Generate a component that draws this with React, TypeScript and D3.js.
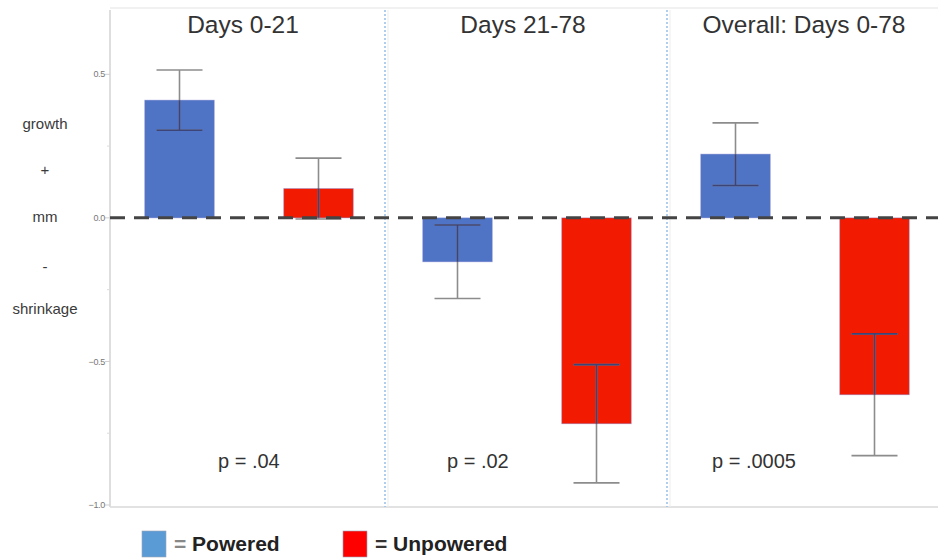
import React, { useEffect, useRef } from "react";
import * as d3 from "d3";

const periods = ["Days 0-21", "Days 21-78", "Overall: Days 0-78"];
const groups = ["Powered", "Unpowered"];
const poweredMean = [0.41, -0.153, 0.222];
const poweredErr = [0.105, 0.128, 0.109];
const unpoweredMean = [0.102, -0.717, -0.616];
const unpoweredErr = [0.106, 0.206, 0.212];
const pValues = ["p = .04", "p = .02", "p = .0005"];
const sideLabels = ["growth", "+", "mm", "-", "shrinkage"];
const yTicks = [0.5, 0.0, -0.5, -1.0];
const yMinorTicks = [0.25, -0.25, -0.75];

const WIDTH = 938;
const HEIGHT = 560;

const App = () => {
  const svgRef = useRef<SVGSVGElement | null>(null);

  useEffect(() => {
    const svg = d3.select(svgRef.current);
    svg.selectAll("*").remove();

    const left = 110;
    const top = 10;
    const bottom = 507;
    const right = WIDTH;

    const y = d3.scaleLinear().domain([-1.007, 0.724]).range([bottom, top]);

    const xPanel = d3.scaleBand<string>().domain(periods).range([left, left + 278 * 3]).padding(0);
    const xGroup = d3.scaleBand<string>()
      .domain(groups)
      .range([0, xPanel.bandwidth()])
      .paddingInner(0.5)
      .paddingOuter(0.25);

    const rows = periods.flatMap((p, i) => [
      { period: p, group: "Powered", mean: poweredMean[i], err: poweredErr[i], color: "#5074c5", i },
      { period: p, group: "Unpowered", mean: unpoweredMean[i], err: unpoweredErr[i], color: "#f21a00", i },
    ]);

    svg.append("rect").attr("width", WIDTH).attr("height", HEIGHT).attr("fill", "#fff");

    const font = "'Liberation Sans', Arial, sans-serif";

    // frame lines
    svg.append("line")
      .attr("x1", left).attr("x2", right).attr("y1", 8).attr("y2", 8)
      .attr("stroke", "#ececec").attr("stroke-width", 1.5);
    svg.append("line")
      .attr("x1", left).attr("x2", right).attr("y1", bottom).attr("y2", bottom)
      .attr("stroke", "#d8d8d8").attr("stroke-width", 1.5);
    svg.append("line")
      .attr("x1", left).attr("x2", left).attr("y1", top).attr("y2", bottom)
      .attr("stroke", "#dedede").attr("stroke-width", 2);

    // y ticks
    const ax = svg.append("g");
    ax.selectAll("line.major")
      .data(yTicks)
      .join("line")
      .attr("class", "major")
      .attr("x1", left - 5).attr("x2", left)
      .attr("y1", (d) => y(d)).attr("y2", (d) => y(d))
      .attr("stroke", "#cfcfcf").attr("stroke-width", 1);
    ax.selectAll("line.minor")
      .data(yMinorTicks)
      .join("line")
      .attr("class", "minor")
      .attr("x1", left - 3).attr("x2", left)
      .attr("y1", (d) => y(d)).attr("y2", (d) => y(d))
      .attr("stroke", "#dcdcdc").attr("stroke-width", 1);
    ax.selectAll("text")
      .data(yTicks)
      .join("text")
      .attr("x", left - 5)
      .attr("y", (d) => y(d))
      .attr("dy", "0.35em")
      .attr("text-anchor", "end")
      .attr("font-family", font)
      .attr("font-size", 9)
      .attr("letter-spacing", -0.3)
      .attr("fill", "#777")
      .text((d) => d3.format(".1f")(d));

    // side labels
    const sideY = [129, 175, 222, 272, 314];
    svg.append("g")
      .selectAll("text")
      .data(sideLabels)
      .join("text")
      .attr("x", 45)
      .attr("y", (_, i) => sideY[i])
      .attr("text-anchor", "middle")
      .attr("font-family", font)
      .attr("font-size", 15)
      .attr("fill", "#3a3a3a")
      .text((d) => d);

    // panel dividers
    const dividers = periods.slice(1).map((p) => xPanel(p) as number);
    dividers.forEach((dx, k) => {
      const xd = k === 0 ? dx - 3 : dx + 1;
      svg.append("line")
        .attr("x1", xd).attr("x2", xd).attr("y1", top).attr("y2", bottom)
        .attr("stroke", "#9dc3e8").attr("stroke-width", 1.6)
        .attr("stroke-dasharray", "2,2");
      svg.append("line")
        .attr("x1", xd + 3).attr("x2", xd + 3).attr("y1", top).attr("y2", bottom)
        .attr("stroke", "#ededed").attr("stroke-width", 1);
    });

    // titles
    svg.append("g")
      .selectAll("text")
      .data(periods)
      .join("text")
      .attr("x", (d, i) => (xPanel(d) as number) + xPanel.bandwidth() / 2 - [6, 4, 1][i])
      .attr("y", 33)
      .attr("text-anchor", "middle")
      .attr("font-family", font)
      .attr("font-size", 24.5)
      .attr("fill", "#333")
      .text((d) => d);

    // bars
    const barX = (d: any) => (xPanel(d.period) as number) + (xGroup(d.group) as number);
    const defs = svg.append("defs");
    rows.forEach((d, k) => {
      defs.append("clipPath")
        .attr("id", `bar-clip-${k}`)
        .append("rect")
        .attr("x", barX(d))
        .attr("y", y(Math.max(0, d.mean)))
        .attr("width", xGroup.bandwidth())
        .attr("height", Math.abs(y(d.mean) - y(0)));
    });

    svg.append("g")
      .selectAll("rect")
      .data(rows)
      .join("rect")
      .attr("x", barX)
      .attr("y", (d) => y(Math.max(0, d.mean)))
      .attr("width", xGroup.bandwidth())
      .attr("height", (d) => Math.abs(y(d.mean) - y(0)))
      .attr("fill", (d) => d.color)
      .attr("stroke", "#7c7fd0")
      .attr("stroke-opacity", 0.5)
      .attr("stroke-width", 0.8);

    // error bars: grey outside, dark navy where they cross the bar
    const capHalf = 23;
    const drawErr = (g: any, d: any, color: string) => {
      const cx = barX(d) + xGroup.bandwidth() / 2;
      const y1 = y(d.mean + d.err);
      const y2 = y(d.mean - d.err);
      g.append("line").attr("x1", cx).attr("x2", cx).attr("y1", y1).attr("y2", y2)
        .attr("stroke", color).attr("stroke-width", 1.6);
      [y1, y2].forEach((yy) => {
        g.append("line").attr("x1", cx - capHalf).attr("x2", cx + capHalf).attr("y1", yy).attr("y2", yy)
          .attr("stroke", color).attr("stroke-width", 1.6);
      });
    };
    const errG = svg.append("g");
    rows.forEach((d, k) => {
      drawErr(errG.append("g"), d, "#8c8c8c");
      drawErr(errG.append("g").attr("clip-path", `url(#bar-clip-${k})`), d, "#3c4478");
    });

    // zero dashed line
    svg.append("line")
      .attr("x1", left).attr("x2", right).attr("y1", y(0)).attr("y2", y(0))
      .attr("stroke", "#444").attr("stroke-width", 3)
      .attr("stroke-dasharray", "15,9");

    // p values
    const pOffset = [108, 59, 46];
    svg.append("g")
      .selectAll("text")
      .data(pValues)
      .join("text")
      .attr("x", (_, i) => (xPanel(periods[i]) as number) + pOffset[i])
      .attr("y", 468)
      .attr("font-family", font)
      .attr("font-size", 20)
      .attr("fill", "#333")
      .text((d) => d);

    // legend
    const legend = svg.append("g");
    const legendItems = [
      { label: "Powered", swatch: "#5b9bd5", eq: "#888", x: 142 },
      { label: "Unpowered", swatch: "#ff0000", eq: "#333", x: 343 },
    ];
    legendItems.forEach((it) => {
      legend.append("rect")
        .attr("x", it.x).attr("y", 531).attr("width", 24).attr("height", 26)
        .attr("fill", it.swatch)
        .attr("stroke", "#9aa7b8").attr("stroke-width", 0.6);
      const t = legend.append("text")
        .attr("x", it.x + 32).attr("y", 551)
        .attr("font-family", font)
        .attr("font-weight", "bold")
        .attr("font-size", 21)
        .attr("fill", "#222");
      t.append("tspan").attr("fill", it.eq).text("= ");
      t.append("tspan").text(it.label);
    });
  }, []);

  return (
    <svg
      ref={svgRef}
      width={WIDTH}
      height={HEIGHT}
      style={{ position: "absolute", left: 0, top: 0 }}
      role="img"
      aria-label="Growth and shrinkage by period, powered vs unpowered"
    />
  );
};

export default App;
